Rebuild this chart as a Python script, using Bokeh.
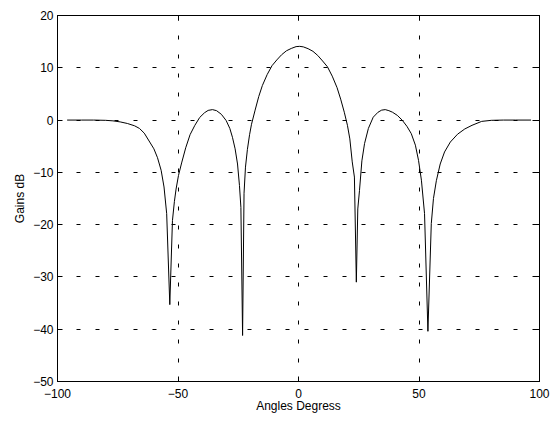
from bokeh.plotting import figure
from bokeh.models import LinearAxis, Range1d, FixedTicker
from bokeh.embed import file_html
from bokeh.resources import INLINE

# Data
angles = [-96, -90, -85, -80, -77, -74, -71, -68, -66, -64, -62, -60, -58.5, -57,
          -55.8, -54.7, -53.4, -52.3, -51.5, -50.8, -49.8, -48.5, -46.8, -45, -43,
          -41, -39, -37.5, -35.7, -34, -32, -30, -28.5, -27.4, -26.3, -25.3, -24.5,
          -23.9, -23.2, -22.6, -22.0, -21.2, -20.3, -19.5, -18, -16.5, -15, -13, -11,
          -9, -7, -5, -3, -1, 0.5, 2, 4, 6, 8, 10, 12, 14, 16, 17.5, 19, 20.3, 21.3,
          22.3, 23.2, 24.0, 24.6, 25.3, 26.3, 27.4, 29, 31, 33, 34.5, 36, 37.5, 39,
          41, 43, 45, 46.8, 48.5, 49.8, 51, 52.3, 53.7, 55.1, 56, 57.2, 58.8, 60.6,
          63, 66, 69, 72, 76, 80, 85, 90, 96.5]
gains_db = [0, 0, 0, -0.05, -0.15, -0.35, -0.65, -1.1, -1.6, -2.5, -4.0, -5.5, -7.2, -9.6,
            -12.8, -17.9, -35.3, -19.2, -15.6, -13.2, -10.6, -8.2, -5.3, -2.8, -1.0,
            0.5, 1.4, 1.85, 2.0, 1.8, 1.1, -0.1, -1.6, -3.3, -5.5, -8.4, -12.5,
            -16.7, -41.2, -14.0, -9.0, -5.6, -2.8, -0.8, 1.9, 4.5, 6.6, 8.7, 10.4,
            11.5, 12.5, 13.25, 13.7, 14.05, 14.1, 14.0, 13.65, 13.15, 12.35, 11.3, 10.2, 8.4, 6.2, 4.0, 1.5, -1.0, -3.6,
            -8.0, -10.9, -31.0, -17.0, -13.5, -7.8, -4.5, -1.6, 0.55, 1.5, 1.9, 2.0, 1.8, 1.5,
            0.9, 0.0, -1.2, -2.6, -4.8, -7.7, -11.5, -17.9, -40.4, -19.8, -15.0, -11.6, -8.4, -6.1,
            -4.2, -2.7, -1.7, -1.0, -0.25, -0.05, 0, 0, 0]

x_ticks = [-100, -50, 0, 50, 100]
y_ticks = [-50, -40, -30, -20, -10, 0, 10, 20]

FONT = "Liberation Sans"
FS = "12px"

p = figure(frame_width=482, frame_height=366, output_backend="svg", toolbar_location=None,
           x_range=Range1d(-100, 100), y_range=Range1d(-50, 20),
           min_border_left=57, min_border_right=13, min_border_top=15,
           min_border_bottom=40)
p.background_fill_color = "white"
p.border_fill_color = "white"
p.outline_line_color = "black"
p.outline_line_width = 1

p.line(angles, gains_db, line_color="black", line_width=1)

def style_axis(ax, ticks, labels=True):
    ax.ticker = FixedTicker(ticks=ticks)
    ax.major_tick_in = 5
    ax.major_tick_out = 0
    ax.minor_tick_in = 0
    ax.minor_tick_out = 0
    ax.axis_line_color = "black"
    ax.major_tick_line_color = "black"
    ax.major_label_text_font = FONT
    if labels:
        ax.major_label_text_color = "black"
        ax.major_label_text_font_size = FS
    else:
        ax.major_label_text_color = None
        ax.major_label_text_font_size = "1px"
        ax.major_label_standoff = 0

style_axis(p.xaxis[0], x_ticks)
style_axis(p.yaxis[0], y_ticks)
p.xaxis[0].major_label_standoff = 7
p.yaxis[0].major_label_standoff = 4
p.xaxis[0].axis_label = "Angles Degress"
p.yaxis[0].axis_label = "Gains dB"
for ax in (p.xaxis[0], p.yaxis[0]):
    ax.axis_label_text_font = FONT
    ax.axis_label_text_font_size = FS
    ax.axis_label_text_font_style = "normal"
    ax.axis_label_text_color = "black"
p.xaxis[0].axis_label_standoff = -2
p.yaxis[0].axis_label_standoff = 3

top = LinearAxis()
style_axis(top, x_ticks, labels=False)
p.add_layout(top, "above")
right = LinearAxis()
style_axis(right, y_ticks, labels=False)
p.add_layout(right, "right")

p.xgrid.ticker = FixedTicker(ticks=x_ticks)
p.ygrid.ticker = FixedTicker(ticks=y_ticks)
for g in (p.xgrid, p.ygrid):
    g.grid_line_color = "black"
    g.grid_line_dash = "4 15"
    g.grid_line_width = 1

open("out.html", "w").write(file_html(p, INLINE))
